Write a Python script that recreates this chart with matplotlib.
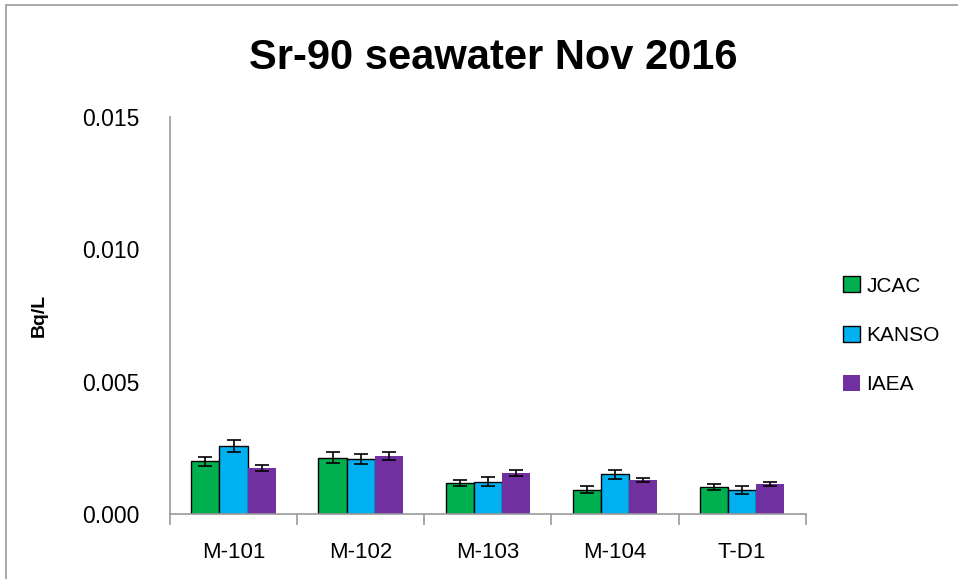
"""Sr-90 seawater Nov 2016 inter-lab comparison bar chart."""

import numpy as np
import matplotlib
matplotlib.use("Agg")
import matplotlib.pyplot as plt
from matplotlib.patches import Rectangle

STATIONS = ["M-101", "M-102", "M-103", "M-104", "T-D1"]
LABS = ["JCAC", "KANSO", "IAEA"]

JCAC = [0.00199, 0.00213, 0.00117, 0.00092, 0.00102]
KANSO = [0.00257, 0.00208, 0.00121, 0.00150, 0.00092]
IAEA = [0.00175, 0.00219, 0.00156, 0.00127, 0.00113]

JCAC_ERR = [0.00017, 0.00020, 0.00012, 0.00012, 0.00013]
KANSO_ERR = [0.00022, 0.00020, 0.00017, 0.00018, 0.00015]
IAEA_ERR = [0.00011, 0.00014, 0.00011, 0.00008, 0.00006]

COLORS = ["#00B050", "#00B0F0", "#7030A0"]
EDGES = ["black", "black", "none"]

plt.rcParams["font.family"] = ["Liberation Sans", "DejaVu Sans"]

fig = plt.figure(figsize=(9.58, 5.79), dpi=100)
ax = fig.add_axes([0.1775, 0.1123, 0.6635, 0.6857])

# outer chart frame
fig.patches.append(Rectangle((6 / 958, -0.05), 1.1, 1 - 5 / 579 + 0.05,
                             transform=fig.transFigure, fill=False,
                             edgecolor="#999999", linewidth=1.2))

x = np.arange(len(STATIONS))
w = 0.222
for i, (vals, errs) in enumerate([(JCAC, JCAC_ERR), (KANSO, KANSO_ERR), (IAEA, IAEA_ERR)]):
    ax.bar(x + (i - 1) * w, vals, w, color=COLORS[i], edgecolor=EDGES[i],
           linewidth=1.0, label=LABS[i], zorder=2,
           yerr=errs, capsize=5, error_kw=dict(ecolor="black", elinewidth=1.2, capthick=1.2))

ax.set_xlim(-0.5, len(STATIONS) - 0.5)
ax.set_ylim(0, 0.015)
ax.set_yticks([0, 0.005, 0.010, 0.015])
ax.set_yticklabels(["0.000", "0.005", "0.010", "0.015"], fontsize=16.5)
ax.set_xticks(x)
ax.set_xticklabels(STATIONS, fontsize=16)
ax.set_xticks(np.arange(len(STATIONS) + 1) - 0.5, minor=True)
ax.tick_params(axis="x", which="major", length=0, pad=20)
ax.tick_params(axis="x", which="minor", length=8, color="#999999", width=1.2)
ax.tick_params(axis="y", length=0, pad=22)

for s in ["top", "right"]:
    ax.spines[s].set_visible(False)
for s in ["left", "bottom"]:
    ax.spines[s].set_color("#999999")
    ax.spines[s].set_linewidth(1.2)

ax.set_ylabel("Bq/L", fontsize=14, fontweight="bold", labelpad=25)
fig.text(0.515, 0.9, "Sr-90 seawater Nov 2016", ha="center", va="center",
         fontsize=30, fontweight="bold")

ax.legend(loc="center left", bbox_to_anchor=(1.03, 0.45), frameon=False,
          fontsize=15, handlelength=0.8, handleheight=0.8, handletextpad=0.3,
          labelspacing=1.45)

fig.savefig("out.png", dpi=100)
